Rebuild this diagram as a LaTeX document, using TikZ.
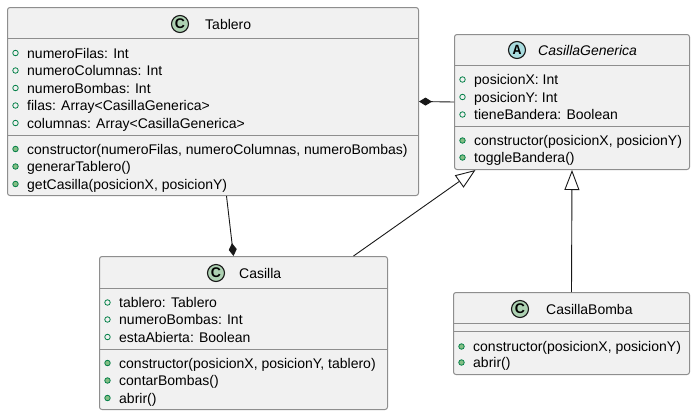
\documentclass[tikz,border=0pt]{standalone}
\usepackage{fontspec}
\setmainfont{Liberation Sans}
\newfontfamily\iconmono{Liberation Mono}
\usetikzlibrary{arrows.meta}
\definecolor{boxfill}{HTML}{F1F1F1}
\definecolor{linec}{HTML}{181818}
\definecolor{boxline}{HTML}{8E8E8E}
\definecolor{attrc}{HTML}{038048}
\definecolor{methc}{HTML}{84BE84}
\definecolor{cfill}{HTML}{ADD1B2}
\definecolor{afill}{HTML}{A9DCDF}
\newcommand\fs{\fontsize{14}{16}\selectfont}
\newcommand\umlattr[4]{\node[attrmark] (#1m) at (#2+8.5,#3) {}; \node[rowtxt] (#1) at (#2+20,#3+5) {#4};}
\newcommand\umlmeth[4]{\node[methmark] (#1m) at (#2+8.5,#3) {}; \node[rowtxt] (#1) at (#2+20,#3+5) {#4};}
\begin{document}
\begin{tikzpicture}[x=1pt,y=-1pt,
  classbox/.style={draw=boxline, fill=boxfill, rounded corners=2.5pt, line width=1pt, inner sep=0, anchor=north west},
  sepline/.style={draw=boxline, line width=1pt},
  rowtxt/.style={anchor=base west, inner sep=0, font=\fs, text=black},
  titletxt/.style={anchor=base west, inner sep=0, font=\fs, text=black},
  attrmark/.style={circle, draw=attrc, line width=0.8pt, minimum size=5.5pt, inner sep=0},
  methmark/.style={circle, draw=attrc, fill=methc, line width=0.8pt, minimum size=5.5pt, inner sep=0},
  iconc/.style={circle, draw=linec, line width=1.1pt, minimum size=17pt, inner sep=0, fill=cfill, font=\fontsize{14}{14}\selectfont\bfseries},
  icona/.style={circle, draw=linec, line width=1.1pt, minimum size=17pt, inner sep=0, fill=afill, font=\fontsize{14}{14}\selectfont\iconmono\bfseries},
  comp/.style={draw=linec, line width=0.9pt, -{Diamond[length=13pt,width=8pt,fill=linec]}},
  genl/.style={draw=linec, line width=0.9pt, -{Triangle[open,length=20pt,width=15pt,fill=white]}}
]
\useasboundingbox (0,0) rectangle (696,416);

% Tablero
\node[classbox, minimum width=411pt, minimum height=188pt] (tablero) at (7,7) {};
\node[iconc] (tabicon) at (180,24) {C};
\node[titletxt] (tabname) at (205,29) {Tablero};
\draw[sepline] (7,38) -- (418,38);
\draw[sepline] (7,135) -- (418,135);
\umlattr{ta1}{7}{53}{numeroFilas: Int}
\umlattr{ta2}{7}{70.5}{numeroColumnas: Int}
\umlattr{ta3}{7}{88}{numeroBombas: Int}
\umlattr{ta4}{7}{105.5}{filas: Array<CasillaGenerica>}
\umlattr{ta5}{7}{123}{columnas: Array<CasillaGenerica>}
\umlmeth{tm1}{7}{149}{constructor(numeroFilas, numeroColumnas, numeroBombas)}
\umlmeth{tm2}{7}{166.5}{generarTablero()}
\umlmeth{tm3}{7}{184}{getCasilla(posicionX, posicionY)}

% CasillaGenerica
\node[classbox, minimum width=235pt, minimum height=135pt] (cgen) at (454,34) {};
\node[icona] (cgicon) at (517,50) {A};
\node[titletxt, font=\fs\itshape] (cgname) at (538,55) {CasillaGenerica};
\draw[sepline] (454,65) -- (689,65);
\draw[sepline] (454,126) -- (689,126);
\umlattr{ga1}{454}{79.5}{posicionX: Int}
\umlattr{ga2}{454}{97}{posicionY: Int}
\umlattr{ga3}{454}{114.5}{tieneBandera: Boolean}
\umlmeth{gm1}{454}{140.5}{constructor(posicionX, posicionY)}
\umlmeth{gm2}{454}{157.5}{toggleBandera()}

% Casilla
\node[classbox, minimum width=288pt, minimum height=153pt] (casilla) at (99,256) {};
\node[iconc] (caicon) at (216,273) {C};
\node[titletxt] (caname) at (239,278) {Casilla};
\draw[sepline] (99,288) -- (387,288);
\draw[sepline] (99,349) -- (387,349);
\umlattr{ca1}{99}{302.5}{tablero: Tablero}
\umlattr{ca2}{99}{319.5}{numeroBombas: Int}
\umlattr{ca3}{99}{337}{estaAbierta: Boolean}
\umlmeth{cm1}{99}{363}{constructor(posicionX, posicionY, tablero)}
\umlmeth{cm2}{99}{380.5}{contarBombas()}
\umlmeth{cm3}{99}{398}{abrir()}

% CasillaBomba
\node[classbox, minimum width=236pt, minimum height=82pt] (cbomba) at (453,292) {};
\node[iconc] (cbicon) at (520,309) {C};
\node[titletxt] (cbname) at (546,314) {CasillaBomba};
\draw[sepline] (453,323) -- (689,323);
\draw[sepline] (453,331) -- (689,331);
\umlmeth{bm1}{453}{346.5}{constructor(posicionX, posicionY)}
\umlmeth{bm2}{453}{362.5}{abrir()}

% connectors
\draw[comp] (cgen.west) -- (tablero.east);
\draw[comp] ([xshift=13.5pt]tablero.south) -- ([xshift=-10pt]casilla.north);
\draw[genl] ([xshift=110pt]casilla.north) -- ([xshift=-96.5pt]cgen.south);
\draw[genl] (cbomba.north) -- (cgen.south);
\end{tikzpicture}
\end{document}
